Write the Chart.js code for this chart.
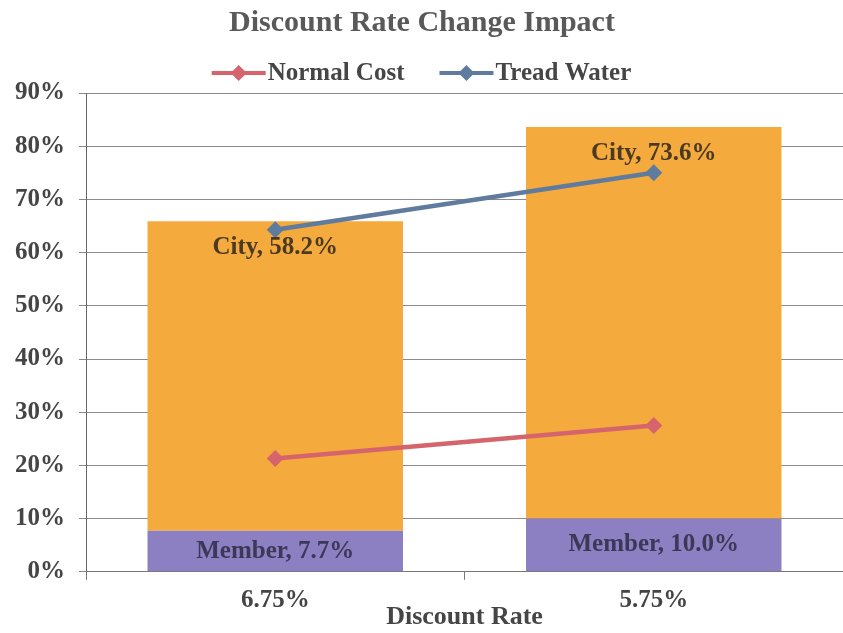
<!DOCTYPE html>
<html>
<head>
<meta charset="utf-8">
<script src="https://cdn.jsdelivr.net/npm/chart.js@4.4.1/dist/chart.umd.min.js"></script>
<style>
  html, body { margin: 0; padding: 0; background: #fff; }
  #wrap { width: 843px; height: 633px; }
</style>
</head>
<body>
<div id="wrap"><canvas id="impact" width="843" height="633"></canvas></div>
<script>
// values (percent)
const categories = ['6.75%', '5.75%'];
const memberRate = [7.7, 10.0];
const cityRate = [58.2, 73.6];
const normalCost = [21.3, 27.5];
const treadWater = [64.3, 75.0];
const yTicks = [0, 10, 20, 30, 40, 50, 60, 70, 80, 90];

const serif = "'Liberation Serif', 'Times New Roman', serif";

// labels inside the bars: "City, 58.2%" near the top, "Member, 7.7%" centred
const barLabels = {
    id: 'barLabels',
    afterDatasetsDraw(chart) {
        const ctx = chart.ctx;
        ctx.save();
        ctx.font = 'bold 25px ' + serif;
        ctx.textAlign = 'center';
        ctx.textBaseline = 'middle';
        chart.data.datasets.forEach((ds, i) => {
            if (ds.type !== 'bar') return;
            const meta = chart.getDatasetMeta(i);
            meta.data.forEach((bar, j) => {
                const txt = ds.label + ', ' + ds.data[j].toFixed(1) + '%';
                let y;
                if (ds.label === 'City') {
                    y = bar.y + 26;
                    ctx.fillStyle = '#4a3a24';
                } else {
                    y = (bar.y + bar.base) / 2;
                    ctx.fillStyle = '#3c3858';
                }
                ctx.fillText(txt, bar.x, y);
            });
        });
        ctx.restore();
    }
};

// legend for the two line series: line with diamond, then name
const lineLegend = {
    id: 'lineLegend',
    afterDraw(chart) {
        const ctx = chart.ctx;
        const items = chart.data.datasets.filter(d => d.type === 'line');
        ctx.save();
        ctx.font = 'bold 25px ' + serif;
        const markW = 54, gapText = 2, gapItem = 35;
        let total = 0;
        items.forEach((d, k) => {
            total += markW + gapText + ctx.measureText(d.label).width;
            if (k < items.length - 1) total += gapItem;
        });
        let x = chart.width / 2 - total / 2;
        const y = chart.chartArea.top - 20;
        items.forEach(d => {
            ctx.strokeStyle = d.borderColor;
            ctx.lineWidth = 4;
            ctx.beginPath();
            ctx.moveTo(x, y);
            ctx.lineTo(x + markW, y);
            ctx.stroke();
            ctx.fillStyle = d.borderColor;
            const cx = x + markW / 2;
            ctx.beginPath();
            ctx.moveTo(cx, y - 8);
            ctx.lineTo(cx + 8, y);
            ctx.lineTo(cx, y + 8);
            ctx.lineTo(cx - 8, y);
            ctx.closePath();
            ctx.fill();
            ctx.fillStyle = '#454545';
            ctx.textAlign = 'left';
            ctx.textBaseline = 'middle';
            ctx.fillText(d.label, x + markW + gapText, y + 1);
            x += markW + gapText + ctx.measureText(d.label).width + gapItem;
        });
        ctx.restore();
    }
};

window.addEventListener('load', () => {
    const el = document.getElementById('impact').getContext('2d');
    const impactChart = new Chart(el, {
        type: 'bar',
        data: {
            labels: categories,
            datasets: [{
                type: 'line',
                label: 'Normal Cost',
                data: normalCost,
                borderColor: '#d6646c',
                backgroundColor: '#d6646c',
                borderWidth: 4.5,
                pointStyle: 'rectRot',
                pointRadius: 8.5,
                pointBorderWidth: 0,
                stack: 'nc',
                order: 1
            }, {
                type: 'line',
                label: 'Tread Water',
                data: treadWater,
                borderColor: '#5f7b9d',
                backgroundColor: '#5f7b9d',
                borderWidth: 4.5,
                pointStyle: 'rectRot',
                pointRadius: 8.5,
                pointBorderWidth: 0,
                stack: 'tw',
                order: 1
            }, {
                type: 'bar',
                label: 'Member',
                data: memberRate,
                backgroundColor: '#8d80c2',
                stack: 'rate',
                order: 2
            }, {
                type: 'bar',
                label: 'City',
                data: cityRate,
                backgroundColor: '#f4aa3c',
                stack: 'rate',
                order: 2
            }]
        },
        options: {
            responsive: false,
            animation: false,
            events: [],
            layout: { autoPadding: false, padding: { left: 1, right: 0, top: 0, bottom: 0 } },
            datasets: {
                bar: { categoryPercentage: 1, barPercentage: 0.675 }
            },
            plugins: {
                legend: { display: false },
                tooltip: { enabled: false },
                title: {
                    display: true,
                    text: 'Discount Rate Change Impact',
                    color: '#595959',
                    font: { family: serif, size: 30, weight: 'bold' },
                    padding: { top: 5, bottom: 52 }
                }
            },
            scales: {
                x: {
                    stacked: true,
                    afterFit: (scale) => { scale.paddingRight = 0; },
                    grid: { drawOnChartArea: false, tickLength: 8, color: '#777' },
                    border: { color: '#777' },
                    ticks: {
                        color: '#454545',
                        padding: 6,
                        font: { family: serif, size: 25, weight: 'bold' }
                    },
                    title: {
                        display: true,
                        text: 'Discount Rate',
                        color: '#454545',
                        font: { family: serif, size: 26, weight: 'bold' },
                        padding: { top: -20, bottom: 0 }
                    }
                },
                y: {
                    stacked: true,
                    min: yTicks[0],
                    max: yTicks[yTicks.length - 1],
                    grid: { color: '#8a8a8a', tickLength: 7 },
                    border: { color: '#666' },
                    afterBuildTicks: (axis) => { axis.ticks = yTicks.map(v => ({ value: v })); },
                    ticks: {
                        color: '#454545',
                        padding: 14,
                        font: { family: serif, size: 25, weight: 'bold' },
                        callback: (v) => v + '%'
                    }
                }
            }
        },
        plugins: [barLabels, lineLegend]
    });
});
</script>
</body>
</html>
